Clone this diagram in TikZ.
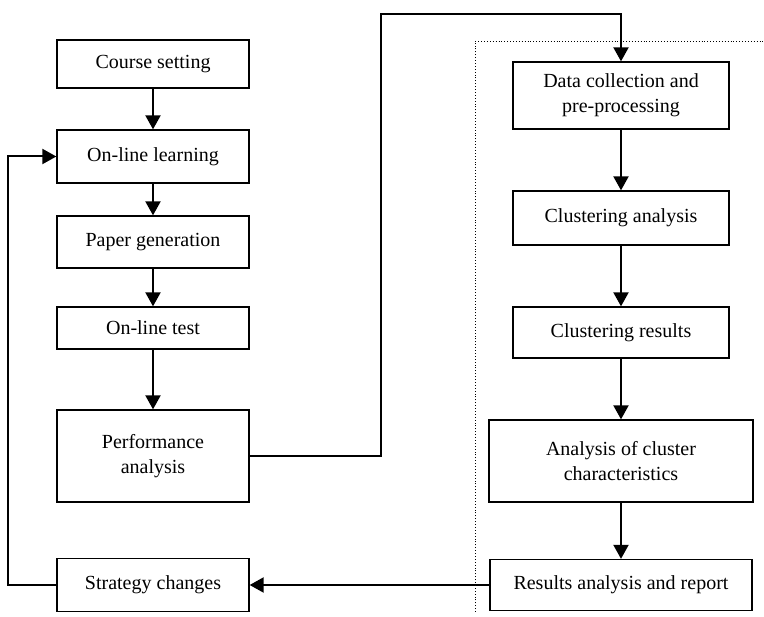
\documentclass[tikz,border=0pt]{standalone}
\usepackage{fontspec}
\setmainfont{Liberation Serif}
\usetikzlibrary{arrows.meta}
\begin{document}
\begin{tikzpicture}[x=1pt,y=-1pt,
  box/.style={draw,line width=1.3pt,inner sep=0pt,align=center,font=\fontsize{20}{25}\selectfont},
  flow/.style={line width=2pt,-{Triangle[length=14pt,width=15pt]}},
  plain/.style={line width=2pt}]
\useasboundingbox (0,0) rectangle (764,617);
\node[box,minimum width=192pt,minimum height=48pt] (cs) at (153,64) {Course setting};
\node[box,minimum width=192pt,minimum height=53pt] (ol) at (153,156.5) {On-line learning};
\node[box,minimum width=192pt,minimum height=52pt] (pg) at (153,242) {Paper generation};
\node[box,minimum width=192pt,minimum height=42pt] (ot) at (153,328) {On-line test};
\node[box,minimum width=192pt,minimum height=92pt] (pa) at (153,456) {Performance\\analysis};
\node[box,minimum width=192pt,minimum height=53pt] (sc) at (153,585) {Strategy changes};
\node[box,minimum width=216pt,minimum height=67pt] (dc) at (621,95.5) {Data collection and\\pre-processing};
\node[box,minimum width=216pt,minimum height=54pt] (ca) at (621,218) {Clustering analysis};
\node[box,minimum width=216pt,minimum height=51pt] (cr) at (621,332.5) {Clustering results};
\node[box,minimum width=264pt,minimum height=82pt] (ac) at (621,461) {Analysis of cluster\\characteristics};
\node[box,minimum width=262pt,minimum height=51pt] (ra) at (621,585) {Results analysis and report};
\draw[flow] (cs) -- (ol);
\draw[flow] (ol) -- (pg);
\draw[flow] (pg) -- (ot);
\draw[flow] (ot) -- (pa);
\draw[flow] (dc) -- (ca);
\draw[flow] (ca) -- (cr);
\draw[flow] (cr) -- (ac);
\draw[flow] (ac) -- (ra);
\coordinate (fb) at (8,585);
\draw[flow] (sc.west) -- (fb) |- (ol.west);
\coordinate (p1) at (381,456);
\coordinate (p2) at (381,14);
\draw[flow] (pa.east) -- (p1) -- (p2) -| (dc.north);
\draw[flow] (ra.west) -- (sc.east);
\coordinate (d1) at (475,612);
\coordinate (d2) at (475,41);
\coordinate (d3) at (764,41);
\draw[dotted,line width=0.9pt] (d1) -- (d2) -- (d3);
\end{tikzpicture}
\end{document}
